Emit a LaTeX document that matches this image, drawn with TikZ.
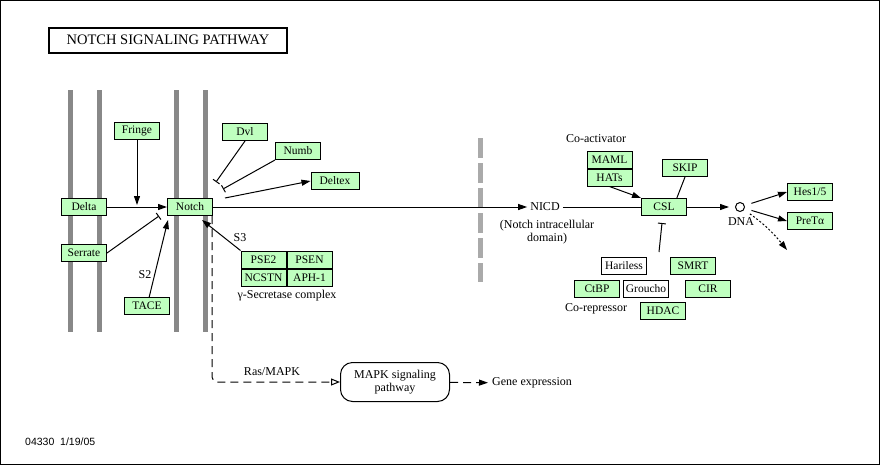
\documentclass[tikz,border=0pt]{standalone}
\usepackage{fontspec}
\setmainfont{Liberation Serif}
\newfontfamily\datefont{Liberation Sans}
\usetikzlibrary{arrows.meta,positioning}
\definecolor{genegreen}{HTML}{BFFFBF}
\definecolor{membgray}{HTML}{888888}
\definecolor{nucgray}{HTML}{AAAAAA}
\tikzset{
  kg/gene/.style={draw, fill=genegreen, rectangle, line width=1pt, minimum width=45pt, minimum height=17pt, inner sep=1pt, font=\fontsize{11.5}{12}\selectfont},
  kg/other/.style={kg/gene, fill=white},
  kg/text/.style={inner sep=1pt, align=center, font=\fontsize{12}{12.5}\selectfont},
  kg/map/.style={draw, line width=1pt, rounded corners=12pt, minimum width=109pt, minimum height=39pt, align=center, font=\fontsize{12}{13}\selectfont},
  kg/line/.style={line width=1pt},
  kg/act/.style={kg/line, -{Triangle[length=9pt,width=6pt]}},
  kg/inh/.style={kg/line, -{Bar[width=8pt]}},
  kg/indirect/.style={kg/line, dash pattern=on 8pt off 5pt},
  kg/membrane/.style={draw=membgray, line width=5pt},
  kg/nucleus/.style={draw=nucgray, line width=5pt, dash pattern=on 20pt off 5pt}
}

\begin{document}
\begin{tikzpicture}[x=1pt, y=-1pt, node distance=0pt]
  \useasboundingbox (0,0) rectangle (881,466);
  \draw[line width=1pt] (0.5,0.5) rectangle (879.5,464.5);

  % membranes
  \foreach \x in {70,99,176,205}
    \draw[kg/membrane] (\x,90) -- (\x,332);
  \draw[kg/nucleus] (480.5,138) -- (480.5,282);

  \node[draw, line width=2pt, minimum width=238pt, minimum height=25pt, font=\fontsize{14.5}{16}\selectfont] (title) at (168,40) {NOTCH SIGNALING PATHWAY};

  % cell surface
  \node[kg/gene] (delta) at (84,207) {Delta};
  \node[kg/gene] (notch) at (190,207) {Notch};
  \node[kg/gene] (fringe) at (137,131) {Fringe};
  \node[kg/gene] (serrate) at (84,253) {Serrate};
  \node[kg/gene] (tace) at (147,306) {TACE};
  \node[kg/gene] (dvl) at (245,132) {Dvl};
  \node[kg/gene] (numb) at (298,151) {Numb};
  \node[kg/gene, minimum width=48pt] (deltex) at (335,181) {Deltex};

  \node[kg/gene] (pse2) at (263.5,259.5) {PSE2};
  \node[kg/gene, right=of pse2] (psen) {PSEN};
  \node[kg/gene, below=of pse2] (ncstn) {NCSTN};
  \node[kg/gene, below=of psen] (aph1) {APH-1};
  \node[kg/text] (seclabel) at (287,296) {γ-Secretase complex};
  \node[kg/text] (s3) at (240,238) {S3};
  \node[kg/text] (s2) at (145,275) {S2};

  % nucleus
  \node[kg/text, inner sep=3pt] (nicd) at (545,207) {NICD};
  \node[kg/text] (nicdnote) at (547,232) {(Notch intracellular\\domain)};
  \node[kg/gene] (csl) at (664,207) {CSL};
  \node[kg/text] (coact) at (596,139) {Co-activator};
  \node[kg/gene] (maml) at (609.5,159.5) {MAML};
  \node[kg/gene, below=of maml] (hats) {HATs};
  \node[kg/gene] (skip) at (685,168) {SKIP};
  \node[draw, line width=1pt, circle, minimum size=9pt, inner sep=0pt] (dna) at (740,207) {};
  \node[kg/text] (dnalabel) at (741,222) {DNA};
  \node[kg/gene] (hes) at (810,192) {Hes1/5};
  \node[kg/gene] (pretalpha) at (810,221) {PreTα};

  \node[kg/other] (hariless) at (624,266) {Hariless};
  \node[kg/gene] (smrt) at (693,266) {SMRT};
  \node[kg/gene] (ctbp) at (597,289) {CtBP};
  \node[kg/other] (groucho) at (646,289) {Groucho};
  \node[kg/gene] (cir) at (708,289) {CIR};
  \node[kg/gene] (hdac) at (663,311) {HDAC};
  \node[kg/text] (corep) at (596,309) {Co-repressor};

  % MAPK
  \node[kg/map] (mapk) at (395,382) {MAPK signaling\\pathway};
  \node[kg/text] (rasmapk) at (272,372) {Ras/MAPK};
  \node[kg/text, inner sep=4pt, anchor=west] (geneexp) at (488,383) {Gene expression};

  \node[font=\datefont\fontsize{10.5}{12}\selectfont, inner sep=0pt, anchor=west] (date) at (25,442) {04330\ \ 1/19/05};

  % free ends
  \coordinate (fringeend) at (137,205);
  \coordinate (serrateend) at (159,216);
  \coordinate (taceend) at (168,220);
  \coordinate (dvlend) at (216,182);
  \coordinate (numbend) at (223,189);
  \coordinate (deltexstart) at (225,198);
  \coordinate (secend) at (202,220);
  \coordinate (repstart) at (659,252);
  \coordinate (repend) at (662,223);
  \coordinate (dnaend) at (787,250);

  \draw[kg/act] (delta) -- (notch);
  \draw[kg/act] (fringe) -- (fringeend);
  \draw[kg/inh] (serrate.east) -- (serrateend);
  \draw[kg/act] (tace) -- (taceend);
  \draw[kg/inh] (dvl.south) -- (dvlend);
  \draw[kg/inh] (numb.south west) -- (numbend);
  \draw[kg/act] (deltexstart) -- (deltex.west);
  \draw[kg/act] (pse2.north west) -- (secend);

  \draw[kg/act] (notch) -- (nicd);
  \draw[kg/line] (nicd) -- (csl);
  \draw[kg/act] (hats.south) -- (csl.north west);
  \draw[kg/line] (skip.south) -- (csl.35);
  \draw[kg/inh] (repstart) -- (repend);
  \draw[kg/act, shorten >=6pt] (csl) -- (dna);
  \draw[kg/act, shorten <=7pt] (dna) -- (hes.west);
  \draw[kg/act, shorten <=7pt] (dna) -- (pretalpha.west);
  \draw[kg/act, dash pattern=on 2pt off 2pt, shorten <=7pt] (dna) to[bend left=8] (dnaend);

  \draw[kg/indirect, rounded corners=5pt, -{Triangle[open,length=9pt,width=7pt]}] ([xshift=-1pt]notch.south east) |- (mapk.west);
  \draw[kg/indirect, -{Triangle[length=9pt,width=6pt]}] (mapk) -- (geneexp);
\end{tikzpicture}
\end{document}
